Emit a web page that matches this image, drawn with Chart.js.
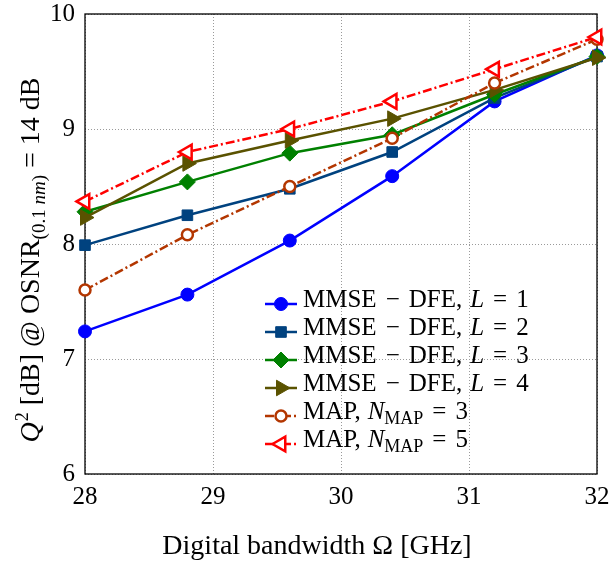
<!DOCTYPE html>
<html>
<head>
<meta charset="utf-8">
<script src="https://cdn.jsdelivr.net/npm/chart.js@4/dist/chart.umd.min.js"></script>
<style>
  html, body { margin: 0; padding: 0; background: #fff; }
</style>
</head>
<body>
<canvas id="chart" width="614" height="563"></canvas>
<script>
// --- Data ---
const bandwidths = [28, 28.8, 29.6, 30.4, 31.2, 32];
const mmseL1 = [7.24, 7.56, 8.03, 8.59, 9.24, 9.64];
const mmseL2 = [7.99, 8.25, 8.48, 8.80, 9.27, 9.63];
const mmseL3 = [8.28, 8.54, 8.79, 8.95, 9.30, 9.63];
const mmseL4 = [8.23, 8.70, 8.90, 9.09, 9.34, 9.62];
const mapN3 = [7.60, 8.08, 8.50, 8.92, 9.40, 9.78];
const mapN5 = [8.37, 8.80, 9.00, 9.24, 9.52, 9.80];

const xTicks = [28, 29, 30, 31, 32];
const yTicks = [6, 7, 8, 9, 10];
const seriesLabels = ['MMSE − DFE, L = 1', 'MMSE − DFE, L = 2', 'MMSE − DFE, L = 3',
                      'MMSE − DFE, L = 4', 'MAP, N_MAP = 3', 'MAP, N_MAP = 5'];
const xTitle = 'Digital bandwidth Ω [GHz]';

const FONT = '"Liberation Serif", "DejaVu Serif", serif';
const DASHDOT = [9, 3, 2, 3];

// --- Series styles ---
const styles = [
    { color: '#0000ff', point: 'circle', radius: 6.5, fill: true, dash: [] },
    { color: '#00427f', point: 'rect', radius: 7.5, fill: true, dash: [] },
    { color: '#008000', point: 'rectRot', radius: 8, fill: true, dash: [] },
    { color: '#5a5200', point: 'triangle', rotation: 90, radius: 9, fill: true, dash: [] },
    { color: '#b33600', point: 'circle', radius: 5.5, fill: false, dash: DASHDOT },
    { color: '#ff0000', point: 'triangle', rotation: -90, radius: 8.5, fill: false, dash: DASHDOT }
];
const seriesValues = [mmseL1, mmseL2, mmseL3, mmseL4, mapN3, mapN5];

const datasets = seriesValues.map((vals, i) => {
    const s = styles[i];
    return {
        label: seriesLabels[i],
        data: vals.map((v, j) => ({ x: bandwidths[j], y: v })),
        borderColor: s.color,
        backgroundColor: s.color,
        borderWidth: 2.5,
        borderDash: s.dash,
        pointStyle: s.point,
        pointRotation: s.rotation || 0,
        pointRadius: s.radius,
        pointBackgroundColor: s.fill ? s.color : '#ffffff',
        pointBorderColor: s.color,
        pointBorderWidth: s.fill ? 1 : 2.5,
        tension: 0,
        clip: false,
        order: seriesValues.length - i
    };
});

// --- Rich text helper: pieces with italic / sub / superscript ---
function drawRich(ctx, x, y, parts, measureOnly) {
    let cx = x;
    parts.forEach(p => {
        ctx.font = `${p.italic ? 'italic ' : ''}${p.size}px ${FONT}`;
        cx += p.gap || 0;
        if (!measureOnly) ctx.fillText(p.text, cx, y + (p.dy || 0));
        cx += ctx.measureText(p.text).width;
    });
    return cx - x;
}

function legendParts(label) {
    const S = 25, sub = 18;
    const n = label.split('= ')[1];
    if (label.startsWith('MMSE')) {
        return [
            { text: 'MMSE', size: S },
            { text: '−', size: S, gap: 9 },
            { text: 'DFE,', size: S, gap: 9 },
            { text: 'L', size: S, italic: true, gap: 8 },
            { text: '=', size: S, gap: 9 },
            { text: n, size: S, gap: 9 }
        ];
    }
    return [
        { text: 'MAP,', size: S },
        { text: 'N', size: S, italic: true, gap: 7 },
        { text: 'MAP', size: sub, dy: 5 },
        { text: '=', size: S, gap: 9 },
        { text: n, size: S, gap: 9 }
    ];
}

const yTitleParts = [
    { text: 'Q', size: 28, italic: true },
    { text: '2', size: 18, dy: -11, gap: 1 },
    { text: ' [dB] @ OSNR', size: 28 },
    { text: '(0.1 ', size: 19, dy: 6 },
    { text: 'nm', size: 19, italic: true, dy: 6 },
    { text: ')', size: 19, dy: 6 },
    { text: ' = 14 dB', size: 28 }
];

// --- Plugin: frame, axis titles, legend ---
const decorations = {
    id: 'decorations',
    beforeDatasetsDraw(chart) {
        const { ctx, chartArea: a } = chart;
        ctx.save();
        ctx.strokeStyle = '#000';
        ctx.lineWidth = 1.3;
        ctx.setLineDash([]);
        ctx.strokeRect(a.left, a.top, a.right - a.left, a.bottom - a.top);
        ctx.restore();
    },
    afterDraw(chart) {
        const { ctx } = chart;
        ctx.save();
        ctx.fillStyle = '#000';
        ctx.textBaseline = 'alphabetic';

        // x title
        ctx.font = `28px ${FONT}`;
        ctx.textAlign = 'center';
        ctx.fillText(xTitle, 317, 554);

        // y title (rotated)
        ctx.textAlign = 'left';
        const w = drawRich(ctx, 0, 0, yTitleParts, true);
        ctx.save();
        ctx.translate(39, 260);
        ctx.rotate(-Math.PI / 2);
        drawRich(ctx, -w / 2, 0, yTitleParts);
        ctx.restore();

        // legend
        const x0 = 265, x1 = 297, tx = 303, rowTop = 304, rowH = 28;
        chart.data.datasets.forEach((ds, i) => {
            const cy = rowTop + i * rowH;
            ctx.save();
            ctx.strokeStyle = ds.borderColor;
            ctx.lineWidth = ds.borderWidth;
            ctx.setLineDash(ds.borderDash);
            ctx.beginPath();
            ctx.moveTo(x0, cy);
            ctx.lineTo(x1, cy);
            ctx.stroke();
            ctx.setLineDash([]);
            ctx.fillStyle = ds.pointBackgroundColor;
            ctx.strokeStyle = ds.pointBorderColor;
            ctx.lineWidth = ds.pointBorderWidth;
            Chart.helpers.drawPoint(ctx, {
                pointStyle: ds.pointStyle,
                rotation: ds.pointRotation,
                radius: ds.pointRadius,
                borderWidth: ds.pointBorderWidth
            }, (x0 + x1) / 2, cy);
            ctx.restore();
            ctx.fillStyle = '#000';
            drawRich(ctx, tx, cy + 3, legendParts(ds.label));
        });
        ctx.restore();
    }
};

new Chart(document.getElementById('chart'), {
    type: 'line',
    data: { datasets },
    options: {
        responsive: false,
        animation: false,
        events: [],
        layout: { padding: { top: 14, right: 17, left: 0, bottom: 0 } },
        plugins: { legend: { display: false }, tooltip: { enabled: false } },
        scales: {
            x: {
                type: 'linear',
                min: 28,
                max: 32,
                afterBuildTicks: axis => { axis.ticks = xTicks.map(v => ({ value: v })); },
                afterFit: axis => {
                    axis.height = 89;
                    axis.paddingLeft = 0;
                    axis.paddingRight = 0;
                },
                ticks: { color: '#000', font: { family: FONT, size: 25 }, padding: 8, maxRotation: 0 },
                grid: { color: '#9a9a9a', lineWidth: 1, drawTicks: false },
                border: { display: false, dash: [1, 2] }
            },
            y: {
                type: 'linear',
                min: 6,
                max: 10,
                afterBuildTicks: axis => { axis.ticks = yTicks.map(v => ({ value: v })); },
                afterFit: axis => {
                    axis.width = 85;
                    axis.paddingTop = 0;
                    axis.paddingBottom = 0;
                },
                ticks: { color: '#000', font: { family: FONT, size: 25 }, padding: 10 },
                grid: { color: '#9a9a9a', lineWidth: 1, drawTicks: false },
                border: { display: false, dash: [1, 2] }
            }
        }
    },
    plugins: [decorations]
});
</script>
</body>
</html>
